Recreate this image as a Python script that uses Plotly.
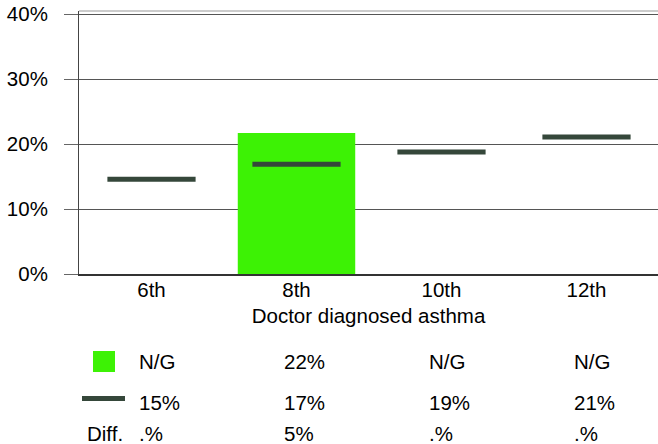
import plotly.graph_objects as go

categories = ["6th", "8th", "10th", "12th"]
bar_values = [None, 21.7, None, None]
marker_values = [14.6, 16.9, 18.8, 21.1]
row_bar_labels = ["N/G", "22%", "N/G", "N/G"]
row_marker_labels = ["15%", "17%", "19%", "21%"]
row_diff_labels = [".%", "5%", ".%", ".%"]
y_ticks = [0, 10, 20, 30, 40]
y_tick_labels = ["0%", "10%", "20%", "30%", "40%"]
x_title = "Doctor diagnosed asthma"

BAR_COLOR = "#3DF205"
MARK_COLOR = "#35473A"
FONT = "Arial, Liberation Sans, sans-serif"
FS = 20.5

W, H = 658, 444
L, R, T, B = 79, 0, 11, 170
PW, PH = W - L - R, H - T - B


def py(ypix):
    return (H - B - ypix) / PH


def px(xpix):
    return (xpix - L) / PW


fig = go.Figure()
fig.add_trace(go.Bar(x=categories, y=bar_values, marker=dict(color=BAR_COLOR, line=dict(width=0)),
                     width=0.81, showlegend=False, hoverinfo="skip"))
fig.add_trace(go.Scatter(x=categories, y=marker_values, mode="markers",
                         marker=dict(symbol="line-ew", size=63, color=MARK_COLOR,
                                     line=dict(width=5, color=MARK_COLOR)),
                         showlegend=False))

annotations = []
rows = [(row_bar_labels, 361), (row_marker_labels, 402.5), (row_diff_labels, 433)]
for labels, ypix in rows:
    for c, t in zip(categories, labels):
        annotations.append(dict(x=c, xref="x", xanchor="left", xshift=-15,
                                y=py(ypix), yref="paper", yanchor="middle",
                                text=t, showarrow=False, font=dict(family=FONT, size=FS, color="#000")))
annotations.append(dict(x=px(85), xref="paper", xanchor="left", y=py(433), yref="paper", yanchor="middle",
                        text="Diff.", showarrow=False, font=dict(family=FONT, size=FS, color="#000")))

shapes = [
    dict(type="line", xref="paper", yref="paper", x0=0, x1=1, y0=1, y1=1,
         line=dict(color="#999", width=1)),
    dict(type="rect", xref="paper", yref="paper", x0=px(93), x1=px(115), y0=py(372), y1=py(351),
         fillcolor=BAR_COLOR, line=dict(width=0)),
    dict(type="line", xref="paper", yref="paper", x0=px(82), x1=px(125), y0=py(398.5), y1=py(398.5),
         line=dict(color=MARK_COLOR, width=5)),
]

fig.update_layout(
    width=W, height=H,
    margin=dict(l=L, r=R, t=T, b=B, pad=0, autoexpand=False),
    paper_bgcolor="white", plot_bgcolor="white",
    font=dict(family=FONT, size=FS, color="#000"),
    annotations=annotations, shapes=shapes,
)
fig.update_xaxes(
    range=[-0.5, 3.5 - 1 / 145], showline=True, linecolor="#333", linewidth=2, automargin=False,
    ticks="", showgrid=False, tickfont=dict(size=FS), ticklabelstandoff=-4,
    title=dict(text=x_title, font=dict(size=FS), standoff=9),
)
fig.update_yaxes(
    range=[0, 40.5], tickmode="array", tickvals=y_ticks, ticktext=y_tick_labels, automargin=False,
    showgrid=True, gridcolor="#555", gridwidth=1, ticklabeloverflow="allow",
    zeroline=False, showline=True, linecolor="#444", linewidth=1,
    ticks="outside", ticklen=14, tickcolor="#666", tickwidth=1, ticklabelstandoff=12,
    tickfont=dict(size=FS),
)

fig.write_html(
    "out.html",
    config={"displayModeBar": False},
    post_script="document.body.style.margin='0px';document.body.style.overflow='hidden';",
)
